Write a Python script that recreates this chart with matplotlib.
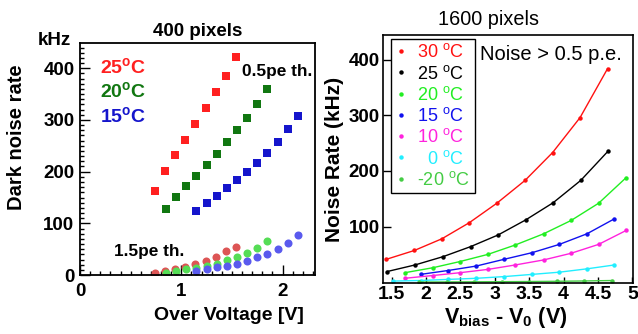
import matplotlib
matplotlib.use('Agg')
import matplotlib.pyplot as plt
from matplotlib.lines import Line2D
from matplotlib.ticker import MultipleLocator, FormatStrFormatter

plt.rcParams['font.family'] = ['Liberation Sans', 'DejaVu Sans']
plt.rcParams['mathtext.fontset'] = 'custom'
plt.rcParams['mathtext.rm'] = 'Liberation Sans'
plt.rcParams['mathtext.bf'] = 'Liberation Sans:bold'
plt.rcParams['mathtext.it'] = 'Liberation Sans:italic'

# ---- left panel: 400 pixels, dark noise vs over voltage
ov_25 = [0.74, 0.84, 0.94, 1.04, 1.14, 1.24, 1.34, 1.44, 1.54]
ov_20 = [0.85, 0.95, 1.05, 1.15, 1.25, 1.35, 1.45, 1.55, 1.65, 1.75, 1.85]
ov_15 = [1.15, 1.25, 1.35, 1.45, 1.55, 1.65, 1.75, 1.85, 1.95, 2.05, 2.15]
dn05_25 = [163, 201, 233, 261, 292, 323, 355, 386, 421]
dn05_20 = [128, 151, 172, 191, 213, 234, 257, 280, 304, 331, 359]
dn05_15 = [124, 139, 153, 168, 184, 200, 217, 237, 257, 282, 308]
dn15_25 = [4, 8, 12, 16, 21, 28, 35, 46, 55]
dn15_20 = [4, 8, 11, 14, 17, 22, 29, 35, 43, 53, 65]
dn15_15 = [8, 12, 15, 17, 22, 28, 34, 41, 50, 62, 77]

# ---- right panel: 1600 pixels, noise rate vs Vbias - V0
v_30 = [1.42, 1.83, 2.23, 2.63, 3.03, 3.44, 3.84, 4.24, 4.64]
r_30 = [41, 57, 78, 107, 142, 183, 233, 296, 384]
v_25 = [1.43, 1.84, 2.25, 2.65, 3.05, 3.45, 3.85, 4.25, 4.65]
r_25 = [19, 31, 46, 64, 85, 112, 143, 183, 236]
v_20 = [1.69, 2.10, 2.49, 2.90, 3.30, 3.71, 4.11, 4.51, 4.91]
r_20 = [17, 26, 37, 50, 67, 87, 111, 142, 188]
v_15 = [1.92, 2.32, 2.73, 3.13, 3.54, 3.94, 4.34, 4.74]
r_15 = [14, 21, 29, 41, 53, 68, 87, 114]
v_10 = [1.69, 2.10, 2.49, 2.90, 3.30, 3.71, 4.11, 4.51, 4.91]
r_10 = [7, 12, 17, 23, 31, 40, 52, 68, 93]
v_0 = [1.52, 1.92, 2.32, 2.73, 3.13, 3.54, 3.94, 4.34, 4.74]
r_0 = [2, 3, 5, 7, 10, 14, 18, 24, 31]
v_m20 = [1.90, 2.30, 2.70, 3.10, 3.50, 3.90, 4.30, 4.71]
r_m20 = [0.3, 0.5, 0.7, 0.9, 1.2, 1.6, 2.2, 3.0]

temps = ['30 $^{\\rm o}$C', '25 $^{\\rm o}$C', '20 $^{\\rm o}$C', '15 $^{\\rm o}$C',
         '10 $^{\\rm o}$C', '  0 $^{\\rm o}$C', '-20 $^{\\rm o}$C']
cols = ['#ff1111', '#000000', '#22ee22', '#1111ee', '#ff22dd', '#22eeff', '#44cc44']

fig = plt.figure(figsize=(6.38, 3.34), dpi=100)

# left
ax = fig.add_axes([0.1254, 0.1766, 0.3683, 0.6947])
sq = dict(marker='s', ls='none', ms=5.2, mew=0)
ax.plot(ov_25, dn05_25, color='#ff2020', **sq)
ax.plot(ov_20, dn05_20, color='#117711', **sq)
ax.plot(ov_15, dn05_15, color='#1515cc', **sq)
ci = dict(marker='o', ls='none', ms=5.8, mew=0)
ax.plot(ov_25, dn15_25, color='#dd5555', **ci)
ax.plot(ov_20, dn15_20, color='#55dd55', **ci)
ax.plot(ov_15, dn15_15, color='#5a5aee', **ci)
ax.set_xlim(0, 2.32)
ax.set_ylim(0, 449)
ax.xaxis.set_major_locator(MultipleLocator(1))
ax.xaxis.set_minor_locator(MultipleLocator(0.1))
ax.yaxis.set_major_locator(MultipleLocator(100))
ax.yaxis.set_minor_locator(MultipleLocator(10))
ax.tick_params(which='both', direction='in', top=False, right=False, width=1)
ax.tick_params(which='major', length=7, labelsize=13.5)
ax.tick_params(which='minor', length=3)
ax.tick_params(axis='y', which='major', pad=4)
ax.tick_params(axis='x', which='major', pad=6)
for t in ax.get_xticklabels() + ax.get_yticklabels():
    t.set_fontweight('bold')
for s in ax.spines.values():
    s.set_linewidth(1.3)
ax.set_title('400 pixels', fontsize=13.5, fontweight='bold', pad=5)
ax.text(0.085, 0.897, '25$^{\\mathbf{o}}$C', transform=ax.transAxes, color='#ff2020',
        fontsize=14, fontweight='bold', va='center')
ax.text(0.085, 0.793, '20$^{\\mathbf{o}}$C', transform=ax.transAxes, color='#117711',
        fontsize=14, fontweight='bold', va='center')
ax.text(0.085, 0.685, '15$^{\\mathbf{o}}$C', transform=ax.transAxes, color='#1515cc',
        fontsize=14, fontweight='bold', va='center')
ax.text(0.688, 0.879, '0.5pe th.', transform=ax.transAxes, fontsize=12.4,
        fontweight='bold', va='center')
ax.text(0.145, 0.103, '1.5pe th.', transform=ax.transAxes, fontsize=12.4,
        fontweight='bold', va='center')
fig.text(37.7 / 638, 1 - 45 / 334, 'kHz', fontsize=13.5, fontweight='bold', va='baseline')
fig.text(16.5 / 638, 1 - 137.4 / 334, 'Dark noise rate', fontsize=14.5, fontweight='bold',
         rotation=90, ha='center', va='center')
fig.text(228.8 / 638, 1 - 315 / 334, 'Over Voltage [V]', fontsize=14, fontweight='bold',
         ha='center', va='center')

# right
bx = fig.add_axes([0.5998, 0.1518, 0.3924, 0.7443])
series = [(v_30, r_30), (v_25, r_25), (v_20, r_20), (v_15, r_15),
          (v_10, r_10), (v_0, r_0), (v_m20, r_m20)]
for (vx, ry), c in zip(series, cols):
    bx.plot(vx, ry, color=c, lw=1.0, marker='o', ms=3.2, mew=0)
bx.set_xlim(1.37, 5.01)
bx.set_ylim(-2, 445)
bx.set_xticks([1.5, 2, 2.5, 3, 3.5, 4, 4.5, 5])
bx.set_yticks([100, 200, 300, 400])
bx.xaxis.set_major_formatter(FormatStrFormatter('%g'))
bx.tick_params(direction='in', top=False, right=False, width=1)
bx.tick_params(axis='x', length=4.3, labelsize=14, pad=2)
bx.tick_params(axis='y', length=5.8, labelsize=13.5, pad=2)
for t in bx.get_xticklabels() + bx.get_yticklabels():
    t.set_fontweight('bold')
for s in bx.spines.values():
    s.set_linewidth(1.2)
handles = [Line2D([], [], ls='none', marker='o', ms=3.2, mew=0, color=c) for c in cols]
leg = bx.legend(handles, temps, loc='upper left', bbox_to_anchor=(0.033, 0.983),
                fontsize=13, frameon=True, fancybox=False, edgecolor='black',
                framealpha=1, borderpad=0.25, labelspacing=0.18, handlelength=0.6,
                handletextpad=0.6, borderaxespad=0, labelcolor=cols)
leg.get_frame().set_linewidth(1.0)
bx.text(0.389, 0.898, 'Noise > 0.5 p.e.', transform=bx.transAxes, fontsize=14.5,
        va='baseline')
fig.text(488 / 638, 1 - 25 / 334, '1600 pixels', fontsize=14.3, ha='center', va='baseline')
fig.text(335 / 638, 1 - 159 / 334, 'Noise Rate (kHz)', fontsize=15, fontweight='bold',
         rotation=90, ha='center', va='center')
fig.text(506 / 638, 1 - 323.3 / 334, '$\\mathbf{V_{bias}}$ - $\\mathbf{V_{0}}$ (V)',
         fontsize=15.5, fontweight='bold', ha='center', va='baseline')

fig.savefig('out.png', dpi=100)
